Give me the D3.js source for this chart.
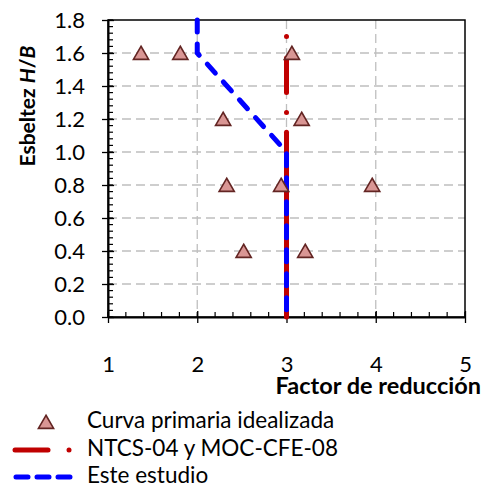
<!DOCTYPE html>
<html>
<head>
<meta charset="utf-8">
<script src="https://cdn.jsdelivr.net/npm/d3@7"></script>
<style>
  body { margin: 0; background: #fff; }
  text { font-family: Lato, "Open Sans", sans-serif; fill: #000; }
</style>
</head>
<body>
<svg width="483" height="488"></svg>
<script>
// Datos
const curvaR = [1.37, 1.81, 3.06, 2.29, 3.17, 2.33, 2.94, 3.96, 2.52, 3.21];
const curvaH = [1.6, 1.6, 1.6, 1.2, 1.2, 0.8, 0.8, 0.8, 0.4, 0.4];

// NTCS-04 y MOC-CFE-08: tramos de raya y puntos (patrón raya-punto)
const ntcsR = 3;
const ntcsDashes = [[0, 1.12], [1.36, 1.57]];
const ntcsDots = [1.24, 1.7];

// Este estudio
const estudioR = [2, 2, 3, 3];
const estudioH = [1.8, 1.6, 1.0, 0.0];

const xTicks = [1, 2, 3, 4, 5];
const yTicks = [0, 0.2, 0.4, 0.6, 0.8, 1.0, 1.2, 1.4, 1.6, 1.8];

const legendLabels = ["Curva primaria idealizada", "NTCS-04 y MOC-CFE-08", "Este estudio"];

const svg = d3.select("svg");
const margin = { top: 20, right: 18, bottom: 171, left: 108 };
const width = +svg.attr("width") - margin.left - margin.right;
const height = +svg.attr("height") - margin.top - margin.bottom;

const g = svg.append("g").attr("transform", `translate(${margin.left},${margin.top})`);

const x = d3.scaleLinear().domain([1, 5]).range([0, width]);
const y = d3.scaleLinear().domain([0, 1.8]).range([height, 0]);

const red = "#c00000";
const blue = "#0000ff";

// grid
g.append("g").selectAll("line")
  .data(xTicks.slice(1, -1))
  .join("line")
  .attr("x1", d => x(d)).attr("x2", d => x(d))
  .attr("y1", 0).attr("y2", height)
  .attr("stroke", "#bfbfbf").attr("stroke-width", 1.3).attr("stroke-dasharray", "9 5");

g.append("g").selectAll("line")
  .data(yTicks.slice(1, -1))
  .join("line")
  .attr("x1", 0).attr("x2", width)
  .attr("y1", d => y(d)).attr("y2", d => y(d))
  .attr("stroke", "#bfbfbf").attr("stroke-width", 1.3).attr("stroke-dasharray", "9 5");

// minor ticks (inside)
const xMinor = d3.range(1, 5.001, 0.2);
const yMinor = d3.range(0, 1.8001, 0.04);

g.append("g").selectAll("line")
  .data(xMinor)
  .join("line")
  .attr("x1", d => x(d)).attr("x2", d => x(d))
  .attr("y1", height).attr("y2", height - 5)
  .attr("stroke", "#000").attr("stroke-width", 1.2);

g.append("g").selectAll("line")
  .data(yMinor)
  .join("line")
  .attr("x1", 0).attr("x2", 5)
  .attr("y1", d => y(d)).attr("y2", d => y(d))
  .attr("stroke", "#000").attr("stroke-width", 1.2);

// axes
const xAxis = g.append("g")
  .attr("transform", `translate(0,${height})`)
  .call(d3.axisBottom(x).tickValues(xTicks).tickFormat(d3.format("d")).tickSizeInner(6).tickSizeOuter(0).tickPadding(33));
xAxis.selectAll(".tick line").attr("y1", -6).attr("stroke-width", 1.3);

const yAxis = g.append("g")
  .call(d3.axisLeft(y).tickValues(yTicks).tickFormat(d3.format(".1f")).tickSizeInner(6).tickSizeOuter(0).tickPadding(17));
yAxis.selectAll(".tick line").attr("x1", 6).attr("stroke-width", 1.3);

[xAxis, yAxis].forEach(a => {
  a.select(".domain").attr("stroke-width", 2);
  a.selectAll(".tick text").attr("font-size", 22).attr("font-family", "Lato, sans-serif");
});

// frame
g.append("rect")
  .attr("width", width).attr("height", height)
  .attr("fill", "none").attr("stroke", "#000").attr("stroke-width", 1.5);

// NTCS line
g.append("g").selectAll("line")
  .data(ntcsDashes)
  .join("line")
  .attr("x1", x(ntcsR)).attr("x2", x(ntcsR))
  .attr("y1", d => y(d[0])).attr("y2", d => y(d[1]))
  .attr("stroke", red).attr("stroke-width", 5).attr("stroke-linecap", "round");

g.append("g").selectAll("circle")
  .data(ntcsDots)
  .join("circle")
  .attr("cx", x(ntcsR)).attr("cy", d => y(d))
  .attr("r", 2.5).attr("fill", red);

// Este estudio
const line = d3.line().x(d => x(d[0])).y(d => y(d[1]));
g.append("path")
  .datum(estudioR.map((r, i) => [r, estudioH[i]]))
  .attr("d", line)
  .attr("fill", "none").attr("stroke", blue).attr("stroke-width", 5)
  .attr("stroke-linecap", "round").attr("stroke-dasharray", "12 12");

// triangulos
const tri = d3.symbol().type(d3.symbolTriangle).size(100);
g.append("g").selectAll("path")
  .data(curvaR.map((r, i) => [r, curvaH[i]]))
  .join("path")
  .attr("d", tri)
  .attr("transform", d => `translate(${x(d[0])},${y(d[1]) + 2})`)
  .attr("fill", "#d99694").attr("stroke", "#632523").attr("stroke-width", 1.6);

// axis titles
svg.append("text")
  .attr("x", 481).attr("y", 394)
  .attr("text-anchor", "end")
  .attr("font-size", 23.5).attr("font-weight", "bold")
  .text("Factor de reducción");

const yt = svg.append("text")
  .attr("transform", "translate(35,106) rotate(-90)")
  .attr("text-anchor", "middle")
  .attr("font-size", 21).attr("font-weight", "bold");
yt.append("tspan").text("Esbeltez ");
yt.append("tspan").attr("font-style", "italic").text("H");
yt.append("tspan").text("/");
yt.append("tspan").attr("font-style", "italic").text("B");

// legend
const leg = svg.append("g");
const rowY = [422, 450, 477];
leg.selectAll("text")
  .data(legendLabels)
  .join("text")
  .attr("x", 87).attr("y", (d, i) => rowY[i] + 6)
  .attr("font-size", 22.5)
  .text(d => d);

leg.append("path")
  .attr("d", tri)
  .attr("transform", `translate(46,${rowY[0] + 2})`)
  .attr("fill", "#d99694").attr("stroke", "#632523").attr("stroke-width", 1.6);

leg.append("line")
  .attr("x1", 15).attr("x2", 48).attr("y1", rowY[1]).attr("y2", rowY[1])
  .attr("stroke", red).attr("stroke-width", 5).attr("stroke-linecap", "round");
leg.append("circle")
  .attr("cx", 69).attr("cy", rowY[1]).attr("r", 2.5).attr("fill", red);

leg.append("line")
  .attr("x1", 16).attr("x2", 70).attr("y1", rowY[2]).attr("y2", rowY[2])
  .attr("stroke", blue).attr("stroke-width", 5).attr("stroke-linecap", "round")
  .attr("stroke-dasharray", "12 9");
</script>
</body>
</html>
